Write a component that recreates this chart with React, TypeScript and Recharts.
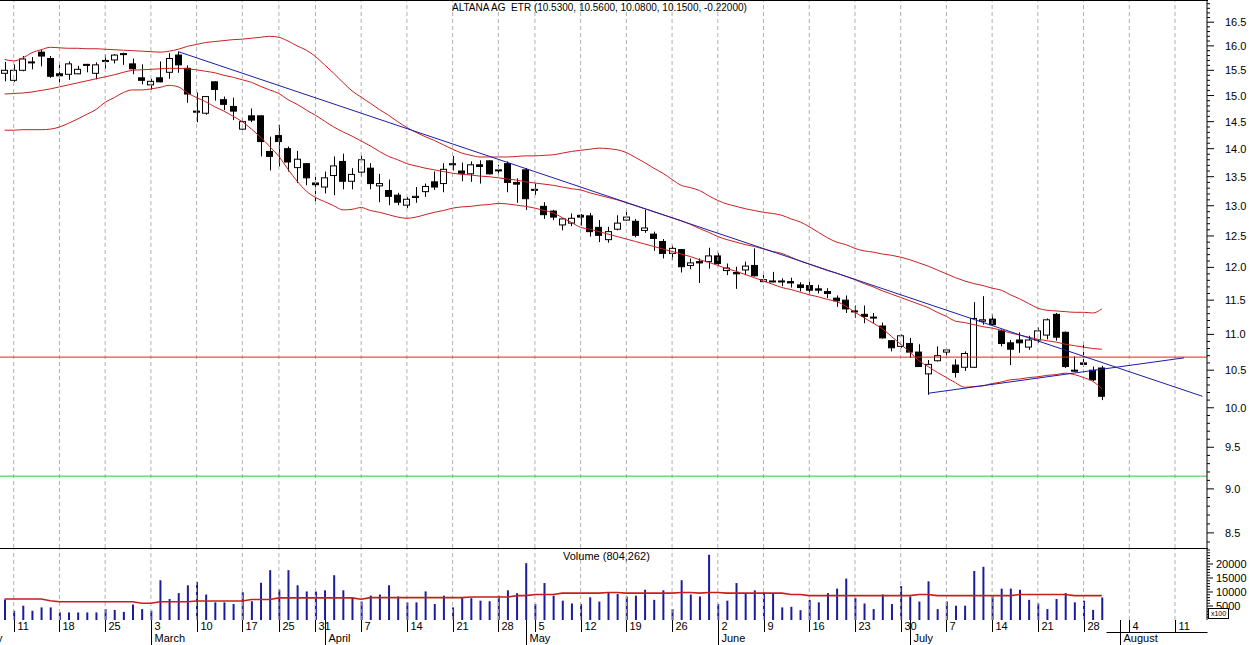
import React from 'react';
import { ComposedChart, Bar, Line, XAxis, YAxis, ReferenceLine } from 'recharts';

// Handelstage 2008 (XETRA), Feb 8 .. Aug 14
const FEB = [8, 11, 12, 13, 14, 15, 18, 19, 20, 21, 22, 25, 26, 27, 28, 29];
const MAR = [3, 4, 5, 6, 7, 10, 11, 12, 13, 14, 17, 18, 19, 20, 25, 26, 27, 28, 31];
const APR = [1, 2, 3, 4, 7, 8, 9, 10, 11, 14, 15, 16, 17, 18, 21, 22, 23, 24, 25, 28, 29, 30];
const MAY = [2, 5, 6, 7, 8, 9, 12, 13, 14, 15, 16, 19, 20, 21, 22, 23, 26, 27, 28, 29, 30];
const JUN = [2, 3, 4, 5, 6, 9, 10, 11, 12, 13, 16, 17, 18, 19, 20, 23, 24, 25, 26, 27, 30];
const JUL = [1, 2, 3, 4, 7, 8, 9, 10, 11, 14, 15, 16, 17, 18, 21, 22, 23, 24, 25, 28, 29, 30, 31];
const AUG = [1, 4, 5, 6, 7, 8, 11, 12, 13, 14];
const MONTH_NAMES = ['February', 'March', 'April', 'May', 'June', 'July', 'August'];

const OPEN = [
  15.44, 15.30, 15.50, 15.65, 15.87, 15.74, 15.43, 15.42, 15.43, 15.62,
  15.44, 15.68, 15.71, 15.83, 15.63, 15.35, 15.21, 15.35, 15.46, 15.81,
  15.54, 14.70, 14.66, 15.27, 14.92, 14.79, 14.36, 14.61, 14.61, 13.95,
  14.24, 14.00, 13.66, 13.73, 13.39, 13.32, 13.52, 13.77, 13.42, 13.58,
  13.65, 13.34, 13.26, 13.18, 13.01, 13.14, 13.24, 13.41, 13.38, 13.71,
  13.60, 13.55, 13.71, 13.78, 13.62, 13.73, 13.40, 13.62, 13.28, 12.99,
  12.91, 12.68, 12.71, 12.84, 12.83, 12.64, 12.44, 12.61, 12.76, 12.74,
  12.59, 12.53, 12.41, 12.22, 12.28, 12.03, 12.09, 12.09, 12.18, 11.95,
  11.92, 11.96, 12.03, 11.78, 11.79, 11.79, 11.78, 11.73, 11.72, 11.67,
  11.63, 11.53, 11.50, 11.34, 11.29, 11.25, 11.12, 10.91, 10.83, 10.87,
  10.75, 10.45, 10.63, 10.75, 10.57, 10.54, 10.54, 11.19, 11.22, 11.05,
  10.88, 10.92, 10.82, 10.92, 10.99, 11.29, 11.03, 10.50, 10.60, 10.50,
  10.53,
];
const HIGH = [
  15.67, 15.62, 15.79, 15.77, 15.92, 15.79, 15.65, 15.68, 15.59, 15.63,
  15.66, 15.82, 15.83, 15.86, 15.74, 15.62, 15.33, 15.68, 15.85, 15.88,
  15.60, 15.06, 14.99, 15.28, 14.98, 14.96, 14.56, 14.75, 14.62, 14.22,
  14.44, 14.04, 13.96, 13.74, 13.50, 13.59, 13.86, 13.91, 13.65, 13.88,
  13.74, 13.55, 13.45, 13.22, 13.15, 13.32, 13.38, 13.59, 13.74, 13.87,
  13.75, 13.77, 13.79, 13.79, 13.71, 13.77, 13.47, 13.65, 13.38, 13.06,
  12.93, 12.79, 12.87, 12.86, 12.88, 12.76, 12.65, 12.84, 12.93, 12.78,
  12.93, 12.57, 12.45, 12.35, 12.29, 12.14, 12.14, 12.31, 12.23, 12.06,
  12.01, 12.09, 12.30, 11.93, 11.93, 11.83, 11.84, 11.77, 11.78, 11.73,
  11.68, 11.57, 11.57, 11.42, 11.42, 11.31, 11.17, 10.92, 11.00, 10.95,
  10.86, 10.64, 10.83, 10.81, 10.65, 10.76, 11.47, 11.56, 11.29, 11.07,
  10.92, 11.03, 10.98, 11.10, 11.23, 11.31, 11.04, 10.69, 10.88, 10.55,
  10.56,
];
const LOW = [
  15.28, 15.27, 15.48, 15.52, 15.58, 15.35, 15.26, 15.31, 15.42, 15.46,
  15.32, 15.53, 15.64, 15.61, 15.42, 15.22, 15.11, 15.26, 15.33, 15.45,
  14.86, 14.49, 14.63, 14.90, 14.72, 14.53, 14.34, 14.49, 13.86, 13.61,
  13.68, 13.59, 13.39, 13.35, 13.05, 13.21, 13.18, 13.28, 13.28, 13.50,
  13.28, 13.06, 13.01, 13.01, 12.96, 13.05, 13.15, 13.27, 13.23, 13.61,
  13.42, 13.41, 13.38, 13.54, 13.53, 13.23, 13.05, 12.93, 13.18, 12.78,
  12.76, 12.59, 12.66, 12.67, 12.49, 12.40, 12.39, 12.59, 12.75, 12.48,
  12.55, 12.26, 12.14, 12.12, 11.92, 11.97, 11.76, 11.98, 12.03, 11.88,
  11.67, 11.88, 11.86, 11.77, 11.77, 11.71, 11.69, 11.63, 11.58, 11.60,
  11.53, 11.40, 11.31, 11.24, 11.16, 11.16, 10.94, 10.76, 10.81, 10.67,
  10.55, 10.17, 10.62, 10.69, 10.40, 10.49, 10.53, 11.14, 11.12, 10.83,
  10.57, 10.74, 10.78, 10.88, 10.93, 10.91, 10.53, 10.48, 10.55, 10.35,
  10.10,
];
const CLOSE = [
  15.50, 15.50, 15.73, 15.67, 15.79, 15.38, 15.39, 15.63, 15.52, 15.61,
  15.61, 15.70, 15.81, 15.84, 15.53, 15.30, 15.28, 15.27, 15.74, 15.61,
  15.03, 14.68, 14.98, 15.12, 14.83, 14.70, 14.50, 14.53, 14.13, 13.86,
  14.13, 13.76, 13.81, 13.48, 13.36, 13.48, 13.69, 13.42, 13.54, 13.80,
  13.38, 13.38, 13.16, 13.06, 13.11, 13.16, 13.33, 13.32, 13.63, 13.73,
  13.56, 13.71, 13.68, 13.55, 13.61, 13.40, 13.37, 13.12, 13.27, 12.85,
  12.81, 12.78, 12.79, 12.81, 12.57, 12.51, 12.57, 12.71, 12.81, 12.51,
  12.63, 12.46, 12.22, 12.30, 12.01, 12.07, 12.07, 12.18, 12.06, 11.99,
  11.90, 12.02, 11.87, 11.81, 11.78, 11.78, 11.76, 11.69, 11.65, 11.65,
  11.60, 11.49, 11.37, 11.33, 11.26, 11.24, 10.95, 10.81, 10.98, 10.75,
  10.55, 10.58, 10.70, 10.78, 10.47, 10.73, 11.23, 11.21, 11.14, 10.87,
  10.79, 10.88, 10.92, 11.05, 11.21, 10.96, 10.55, 10.49, 10.58, 10.37,
  10.15,
];

// Bollinger-Bänder (20 Tage)
const BB_UPPER = [
  15.72, 15.69, 15.75, 15.86, 15.92, 15.97, 15.96, 15.95, 15.95, 15.94,
  15.94, 15.93, 15.92, 15.91, 15.90, 15.89, 15.88, 15.87, 15.89, 15.93,
  15.99, 16.03, 16.07, 16.09, 16.11, 16.13, 16.14, 16.16, 16.18, 16.20,
  16.18, 16.10, 16.00, 15.91, 15.78, 15.61, 15.44, 15.26, 15.09, 14.97,
  14.85, 14.73, 14.62, 14.50, 14.39, 14.30, 14.22, 14.15, 14.07, 13.99,
  13.92, 13.88, 13.85, 13.85, 13.85, 13.85, 13.86, 13.87, 13.87, 13.88,
  13.89, 13.92, 13.95, 13.97, 13.99, 14.01, 14.00, 13.98, 13.93, 13.84,
  13.75, 13.65, 13.56, 13.45, 13.35, 13.31, 13.26, 13.17, 13.09, 13.03,
  12.99, 12.95, 12.92, 12.89, 12.87, 12.84, 12.78, 12.73, 12.65, 12.56,
  12.47, 12.40, 12.36, 12.30, 12.26, 12.24, 12.21, 12.19, 12.16, 12.12,
  12.07, 12.02, 11.96, 11.90, 11.84, 11.79, 11.75, 11.72, 11.68, 11.65,
  11.58, 11.52, 11.45, 11.38, 11.35, 11.34, 11.33, 11.32, 11.32, 11.31,
  11.37,
];
const BB_MID = [
  15.03, 15.04, 15.05, 15.07, 15.10, 15.13, 15.17, 15.21, 15.25, 15.29,
  15.33, 15.37, 15.41, 15.46, 15.50, 15.51, 15.52, 15.53, 15.54, 15.54,
  15.53, 15.51, 15.48, 15.45, 15.40, 15.36, 15.31, 15.26, 15.18, 15.11,
  15.04, 14.92, 14.83, 14.72, 14.62, 14.51, 14.40, 14.31, 14.23, 14.14,
  14.05, 13.95, 13.86, 13.80, 13.73, 13.69, 13.65, 13.62, 13.59, 13.56,
  13.54, 13.53, 13.51, 13.50, 13.48, 13.46, 13.44, 13.41, 13.39, 13.37,
  13.35, 13.32, 13.29, 13.27, 13.22, 13.18, 13.14, 13.10, 13.05, 13.00,
  12.95, 12.90, 12.85, 12.80, 12.75, 12.69, 12.62, 12.56, 12.49, 12.44,
  12.40, 12.36, 12.33, 12.29, 12.25, 12.22, 12.16, 12.10, 12.05, 12.00,
  11.95, 11.91, 11.86, 11.81, 11.75, 11.70, 11.64, 11.59, 11.54, 11.49,
  11.44, 11.39, 11.32, 11.26, 11.19, 11.17, 11.14, 11.11, 11.09, 11.06,
  11.02, 10.99, 10.96, 10.93, 10.91, 10.89, 10.86, 10.84, 10.82, 10.80,
  10.79,
];
const BB_LOWER = [
  14.34, 14.34, 14.35, 14.35, 14.35, 14.36, 14.40, 14.47, 14.55, 14.64,
  14.73, 14.87, 14.96, 15.06, 15.11, 15.11, 15.13, 15.16, 15.20, 15.17,
  15.05, 14.96, 14.88, 14.78, 14.70, 14.60, 14.50, 14.36, 14.21, 14.04,
  13.86, 13.63, 13.42, 13.25, 13.14, 13.07, 13.00, 12.93, 12.94, 12.97,
  12.92, 12.89, 12.85, 12.81, 12.79, 12.81, 12.85, 12.89, 12.92, 12.96,
  12.98, 12.99, 13.01, 13.02, 13.04, 13.03, 13.01, 12.99, 12.96, 12.92,
  12.88, 12.80, 12.72, 12.64, 12.61, 12.57, 12.53, 12.49, 12.45, 12.41,
  12.37, 12.33, 12.29, 12.25, 12.21, 12.17, 12.12, 12.08, 12.03, 11.98,
  11.94, 11.89, 11.84, 11.79, 11.74, 11.69, 11.66, 11.62, 11.58, 11.55,
  11.51, 11.48, 11.41, 11.32, 11.24, 11.16, 11.08, 10.97, 10.86, 10.75,
  10.63, 10.55, 10.47, 10.40, 10.33, 10.27, 10.28, 10.29, 10.32, 10.34,
  10.37, 10.38, 10.40, 10.41, 10.43, 10.44, 10.46, 10.44, 10.40, 10.35,
  10.25,
];

// Volumen in 100 Stück
const VOLUME = [
  7300, 3300, 5100, 3300, 4500, 4500, 2700, 2700, 2700, 2700,
  2700, 3900, 3600, 2900, 5500, 3900, 3300, 14200, 7500, 9600,
  12400, 13600, 9100, 6300, 6300, 5700, 9900, 6700, 13300, 17800,
  10800, 17800, 12400, 10200, 10200, 10600, 16000, 10600, 7900, 6600,
  8700, 9100, 12400, 8400, 6300, 6300, 10200, 5700, 8700, 4500,
  7900, 7800, 6900, 6700, 8700, 10600, 9600, 20300, 5700, 13200,
  8700, 6900, 5900, 5700, 8100, 6600, 9900, 9300, 8400, 8700,
  10800, 7200, 10600, 3900, 14200, 9100, 8400, 23300, 5700, 6900,
  13200, 9300, 10600, 9900, 9600, 4500, 4700, 3500, 7200, 6300,
  9600, 11200, 14800, 7900, 5900, 3900, 9100, 5700, 12100, 8400,
  6600, 13800, 3900, 6600, 5100, 5100, 17500, 19000, 8400, 11200,
  11200, 10800, 7200, 5900, 3900, 7500, 9600, 6300, 6900, 3600,
  8043,
];
const VOL_MA = [
  7500, 7500, 7500, 7500, 7500, 6900, 6500, 6500, 6500, 6500,
  6500, 6500, 6500, 6500, 6500, 6000, 6000, 6500, 6500, 6500,
  6500, 6800, 6800, 6800, 6800, 6800, 6800, 7300, 7300, 7300,
  7900, 7900, 7900, 7900, 7900, 7900, 7900, 7900, 7900, 7400,
  8000, 8000, 8000, 8000, 8000, 8000, 8000, 8000, 8000, 8000,
  8000, 8200, 8200, 8200, 8200, 8200, 8700, 8700, 9100, 9100,
  9100, 9600, 9600, 9600, 9600, 9600, 9800, 9800, 9600, 9600,
  9600, 9600, 9600, 9600, 9800, 9800, 9600, 9800, 9800, 9600,
  9600, 9600, 9600, 9600, 9600, 9600, 9100, 9100, 8700, 8700,
  8700, 8700, 8700, 8700, 8700, 8700, 8700, 8700, 8700, 8700,
  9100, 9100, 8700, 8700, 8700, 8700, 8700, 8700, 8700, 8700,
  8700, 9100, 9100, 9100, 9100, 9100, 9100, 8700, 8700, 8700,
  8700,
];

// Trendlinien: [Index, Kurs]
const TREND_DOWN = [[19, 15.88], [131, 10.15]];
const TREND_UP = [[101, 10.19], [129, 10.67]];
const RESISTANCE = 10.68;
const SUPPORT = 9.15;

const PRICE_TICKS = [8.5, 9.0, 9.5, 10.0, 10.5, 11.0, 11.5, 12.0, 12.5, 13.0, 13.5, 14.0, 14.5, 15.0, 15.5, 16.0, 16.5];
const VOLUME_TICKS = [5000, 10000, 15000, 20000];
const TITLE = 'ALTANA AG  ETR (10.5300, 10.5600, 10.0800, 10.1500, -0.22000)';
const VOLUME_TITLE = 'Volume (804,262)';

const FONT = '"Liberation Sans", Arial, sans-serif';

const DATES = [FEB, MAR, APR, MAY, JUN, JUL, AUG].flatMap((days, m) =>
  days.map(d => ({ key: `${m + 2}/${d}`, month: m, day: d, wd: new Date(2008, m + 1, d).getDay() })));

const rows = DATES.map((dt, i) => {
  const has = i < OPEN.length;
  const td = TREND_DOWN.find(p => p[0] === i);
  const tu = TREND_UP.find(p => p[0] === i);
  return {
    date: dt.key,
    range: has ? [LOW[i], HIGH[i]] : null,
    o: has ? OPEN[i] : null,
    h: has ? HIGH[i] : null,
    l: has ? LOW[i] : null,
    c: has ? CLOSE[i] : null,
    up: has ? BB_UPPER[i] : null,
    mid: has ? BB_MID[i] : null,
    lo: has ? BB_LOWER[i] : null,
    vol: has ? VOLUME[i] : null,
    volMa: has ? VOL_MA[i] : null,
    tDown: td ? td[1] : null,
    tUp: tu ? tu[1] : null,
  };
});

// Wochen- und Monatsanfänge
const tickInfo: Record<string, { day?: number; month?: string; first?: boolean; future?: boolean }> = {};
DATES.forEach((dt, i) => {
  const info: any = {};
  if (i === 0) info.first = true;
  if (i >= OPEN.length) info.future = true;
  if (i > 0 && dt.wd < DATES[i - 1].wd) info.day = dt.day;
  if (i > 0 && dt.month !== DATES[i - 1].month) info.month = MONTH_NAMES[dt.month];
  tickInfo[dt.key] = info;
});
const WEEK_STARTS = DATES.filter(dt => tickInfo[dt.key].day != null).map(dt => dt.key);

const PRICE_MINOR = Array.from({ length: 86 }, (_, k) => Math.round((8.4 + k * 0.1) * 10) / 10);
const VOLUME_MINOR = Array.from({ length: 25 }, (_, k) => (k + 1) * 1000);

const Candle = (props: any) => {
  const { x, y, width, height, payload } = props;
  if (payload.h == null || y == null || isNaN(y)) return null;
  const yTop = Math.min(y, y + height);
  const yBot = Math.max(y, y + height);
  const lh = Math.log(payload.h);
  const ll = Math.log(payload.l);
  const py = (p: number) => (lh === ll ? yTop : yTop + (yBot - yTop) * (lh - Math.log(p)) / (lh - ll));
  const cx = Math.round(x + width / 2) + 0.5;
  const up = payload.c >= payload.o;
  const top = py(Math.max(payload.o, payload.c));
  const bot = py(Math.min(payload.o, payload.c));
  const bx = Math.round(x) + 0.5;
  return (
    <g>
      <line x1={cx} x2={cx} y1={yTop} y2={yBot} stroke="#000" strokeWidth={1} />
      <rect x={bx} y={top} width={width - 1} height={Math.max(bot - top, 1)} fill={up ? '#fff' : '#000'} stroke="#000" strokeWidth={1} />
    </g>
  );
};

const PriceTick = (props: any) => {
  const { x, y, payload } = props;
  const v = payload.value;
  const major = PRICE_TICKS.includes(v);
  return (
    <g>
      <line x1={x} x2={x + (major ? 7 : 3)} y1={y} y2={y} stroke="#000" />
      {major && (
        <text x={x + 18} y={y + 4} fontSize={11} fontFamily={FONT} fill="#000">{v.toFixed(1)}</text>
      )}
    </g>
  );
};

const VolumeTick = (props: any) => {
  const { x, y, payload } = props;
  const v = payload.value;
  const major = VOLUME_TICKS.includes(v);
  return (
    <g>
      <line x1={x} x2={x + (major ? 6 : 3)} y1={y} y2={y} stroke="#000" />
      {major && (
        <text x={x + 9} y={y + 4} fontSize={11} fontFamily={FONT} fill="#000">{v}</text>
      )}
    </g>
  );
};

const DateTick = (props: any) => {
  const { x, y, payload } = props;
  const info = tickInfo[payload.value] || {};
  const lx = Math.round(x) + 0.5;
  return (
    <g>
      {info.first && (
        <text x={lx - 3} y={y + 22} fontSize={11} fontFamily={FONT} textAnchor="end" fill="#000">February</text>
      )}
      {info.future && (
        <line x1={lx - 5} x2={lx + 5} y1={y + 12.5} y2={y + 12.5} stroke="#000" />
      )}
      {info.day != null && (
        <g>
          <line x1={lx} x2={lx} y1={y} y2={y + 12} stroke="#000" />
          <text x={lx + 3} y={y + 10} fontSize={11} fontFamily={FONT} fill="#000">{info.day}</text>
        </g>
      )}
      {info.month && (
        <g>
          <line x1={lx} x2={lx} y1={y} y2={y + 25} stroke="#000" />
          <text x={lx + 3} y={y + 22} fontSize={11} fontFamily={FONT} fill="#000">{info.month}</text>
        </g>
      )}
    </g>
  );
};

export default function App() {
  return (
    <div style={{ position: 'fixed', left: 0, top: 0, width: 1250, height: 645, background: '#fff', fontFamily: FONT }}>
      <div style={{ position: 'absolute', left: 0, top: 548 }}>
        <ComposedChart width={1250} height={97} data={rows} margin={{ top: 1, right: 0, bottom: 0, left: 0 }}>
          {WEEK_STARTS.map(d => (
            <ReferenceLine key={d} x={d} stroke="#b0b0b0" strokeDasharray="4 3" />
          ))}
          <XAxis dataKey="date" interval={0} height={25} tickLine={false} tickSize={0} tickMargin={0}
            axisLine={false} tick={<DateTick />} />
          <YAxis orientation="right" width={43} domain={[0, 25357]} allowDataOverflow ticks={VOLUME_MINOR}
            interval={0} tickLine={false} tickSize={0} tickMargin={0} axisLine={{ stroke: '#000' }} tick={<VolumeTick />} />
          <Bar dataKey="vol" barSize={2} fill="#1b1ba0" isAnimationActive={false} />
          <Line dataKey="volMa" type="linear" stroke="#c81e1e" strokeWidth={1.6} dot={false} activeDot={false} isAnimationActive={false} />
        </ComposedChart>
      </div>
      <div style={{ position: 'absolute', left: 0, top: 0 }}>
        <ComposedChart width={1250} height={548} data={rows} margin={{ top: 1, right: 0, bottom: 0, left: 0 }}>
          {WEEK_STARTS.map(d => (
            <ReferenceLine key={d} x={d} stroke="#b0b0b0" strokeDasharray="4 3" />
          ))}
          <XAxis dataKey="date" hide />
          <YAxis orientation="right" width={43} scale="log" type="number" domain={[8.335, 16.96]} allowDataOverflow
            ticks={PRICE_MINOR} interval={0} tickLine={false} tickSize={0} tickMargin={0}
            axisLine={{ stroke: '#000' }} tick={<PriceTick />} />
          <ReferenceLine y={RESISTANCE} stroke="#e0261c" strokeWidth={1} />
          <ReferenceLine y={SUPPORT} stroke="#2fc42f" strokeWidth={1} />
          <Line dataKey="up" type="monotone" stroke="#cc1f1f" strokeWidth={1} dot={false} activeDot={false} isAnimationActive={false} />
          <Line dataKey="mid" type="monotone" stroke="#cc1f1f" strokeWidth={1} dot={false} activeDot={false} isAnimationActive={false} />
          <Line dataKey="lo" type="monotone" stroke="#cc1f1f" strokeWidth={1} dot={false} activeDot={false} isAnimationActive={false} />
          <Bar dataKey="range" barSize={7} shape={(p: any) => <Candle {...p} />} isAnimationActive={false} />
          <Line dataKey="tDown" type="linear" connectNulls stroke="#1c1caa" strokeWidth={1} dot={false} activeDot={false} isAnimationActive={false} />
          <Line dataKey="tUp" type="linear" connectNulls stroke="#1c1caa" strokeWidth={1} dot={false} activeDot={false} isAnimationActive={false} />
        </ComposedChart>
      </div>
      <div style={{ position: 'absolute', left: 0, top: 0, width: 1208, height: 1, background: '#000' }} />
      <div style={{ position: 'absolute', left: 0, top: 548, width: 1208, height: 1, background: '#000' }} />
      <div style={{ position: 'absolute', left: 452, top: 2, fontSize: 10, whiteSpace: 'pre', lineHeight: '12px' }}>{TITLE}</div>
      <div style={{ position: 'absolute', left: 563, top: 550, fontSize: 11, whiteSpace: 'pre', lineHeight: '13px' }}>{VOLUME_TITLE}</div>
      <div style={{ position: 'absolute', left: 1208, top: 608, width: 19, height: 9, border: '1px solid #000', background: '#fff', fontSize: 7, lineHeight: '9px', textAlign: 'center' }}>x100</div>
    </div>
  );
}
